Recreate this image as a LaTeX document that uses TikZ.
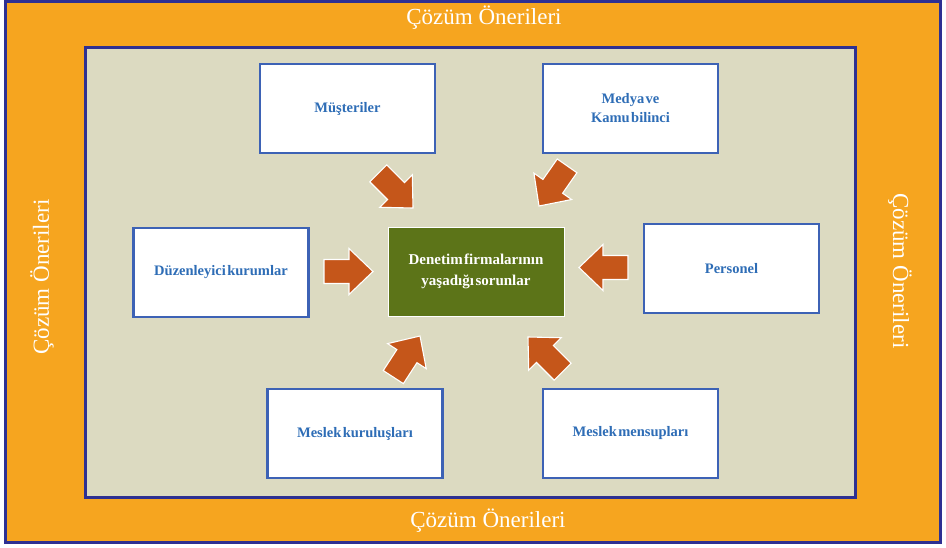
\documentclass[tikz,border=0pt]{standalone}
\usepackage{fontspec}
\setmainfont{Liberation Serif}
\definecolor{orangebg}{HTML}{F6A51F}
\definecolor{navy}{HTML}{2E3092}
\definecolor{beige}{HTML}{DCDAC1}
\definecolor{boxblue}{HTML}{3D62B5}
\definecolor{textblue}{HTML}{2E6DB6}
\definecolor{arrowor}{HTML}{C5561A}
\definecolor{olive}{HTML}{5C7418}
\newcommand\tightsp{\spaceskip=0.1em\relax}
\tikzset{
  actor/.style={draw=boxblue, line width=2.5pt, fill=white, minimum width=175pt, minimum height=89pt,
    inner sep=0pt, align=center, text=textblue, font=\fontsize{14.5}{19}\selectfont\bfseries\tightsp},
  core/.style={draw=white, line width=0.8pt, fill=olive, minimum width=176pt, minimum height=89pt,
    inner sep=0pt, align=center, text=white, font=\fontsize{15}{21}\selectfont\bfseries\tightsp},
  sol/.style={text=white, font=\fontsize{23}{27}\selectfont, inner sep=0pt},
  blockarrow/.style={fill=arrowor, draw=white, line width=1.1pt, line join=miter}
}
\newcommand\barrow[3]{%
  \draw[blockarrow, shift={(#1,#2)}, rotate=#3]
    (0,0) -- (-24,23) -- (-24,12) -- (-49,12) -- (-49,-12) -- (-24,-12) -- (-24,-23) -- cycle;}
\begin{document}
\begin{tikzpicture}[x=1pt,y=-1pt]
\useasboundingbox (0,0) rectangle (946,547);
\draw[navy, line width=3pt, fill=orangebg] (5,1.5) rectangle (940,542);
\draw[navy, line width=3pt, fill=beige] (85.5,47.5) rectangle (855,497);
\node[sol] (top) at (484,18) {Çözüm Önerileri};
\node[sol] (bottom) at (488,521) {Çözüm Önerileri};
\node[sol, rotate=90] (left) at (42,277) {Çözüm Önerileri};
\node[sol, rotate=-90] (right) at (900,271) {Çözüm Önerileri};
\node[actor] (mus) at (347.5,108.5) {Müşteriler};
\node[actor] (med) at (630.5,108.5) {Medya ve\\Kamu bilinci};
\node[actor] (duz) at (221,272.5) {Düzenleyici kurumlar};
\node[actor] (per) at (731.5,268.5) {Personel};
\node[actor] (kur) at (355,433.5) {Meslek kuruluşları};
\node[actor] (men) at (630.5,433.5) {Meslek mensupları};
\node[core] (den) at (476,271.5) {Denetim firmalarının\\yaşadığı sorunlar};
\barrow{373}{271.5}{0}
\barrow{579}{267.5}{180}
\barrow{413}{208}{-45}
\barrow{539}{206}{-125}
\barrow{420}{336}{57}
\barrow{528}{337}{135}
\end{tikzpicture}
\end{document}
